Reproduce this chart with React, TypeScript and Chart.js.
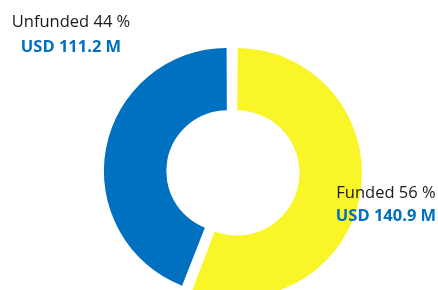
import React, { useEffect, useRef } from "react";
import { Chart, registerables } from "chart.js";

Chart.register(...registerables);

const categories = ["Funded", "Unfunded"];
const percents = [56, 44];
const amountLabels = ["USD 140.9 M", "USD 111.2 M"];
const amounts = [140.9, 111.2];
const sliceColors = ["#F9F526", "#0070C0"];
// explode offsets (Chart.js scales these internally)
const sliceOffsets = [20, 20];

const labelFont = "'Open Sans', sans-serif";

const labelPlugin = {
  id: "sliceLabels",
  afterDraw(chart: any) {
    const meta = chart.getDatasetMeta(0);
    const arc = meta.data[0];
    if (!arc) return;
    const cx = arc.x;
    const cy = arc.y;
    const ctx = chart.ctx;
    const anchors = [
      { dx: 154, dy1: 26, dy2: 49 },
      { dx: -161, dy1: -145, dy2: -120 },
    ];
    ctx.save();
    ctx.textAlign = "center";
    ctx.textBaseline = "alphabetic";
    categories.forEach((cat, i) => {
      const a = anchors[i];
      ctx.fillStyle = "#1a1a1a";
      ctx.font = `16.5px ${labelFont}`;
      ctx.fillText(`${cat} ${percents[i]} %`, cx + a.dx, cy + a.dy1);
      ctx.fillStyle = "#0070C0";
      ctx.font = `bold 16.5px ${labelFont}`;
      ctx.fillText(amountLabels[i], cx + a.dx, cy + a.dy2);
    });
    ctx.restore();
  },
};

export default function App() {
  const ref = useRef<HTMLCanvasElement | null>(null);

  useEffect(() => {
    document.body.style.margin = "0";
    const canvas = ref.current;
    if (!canvas) return;
    const chart = new Chart(canvas, {
      type: "doughnut",
      data: {
        labels: categories,
        datasets: [
          {
            data: amounts,
            backgroundColor: sliceColors,
            borderWidth: 0,
            offset: sliceOffsets,
            hoverOffset: 0,
          },
        ],
      },
      options: {
        responsive: false,
        animation: false,
        cutout: "48%",
        radius: 120,
        layout: { padding: { top: 44, bottom: 0, left: 26, right: 0 } },
        plugins: {
          legend: { display: false },
          tooltip: { enabled: false },
        },
      },
      plugins: [labelPlugin],
    });
    return () => chart.destroy();
  }, []);

  return (
    <div
      style={{
        position: "fixed",
        left: 0,
        top: 0,
        width: 438,
        height: 290,
        overflow: "hidden",
        background: "#fff",
      }}
    >
      <canvas ref={ref} width={438} height={300} style={{ display: "block" }} />
    </div>
  );
}
